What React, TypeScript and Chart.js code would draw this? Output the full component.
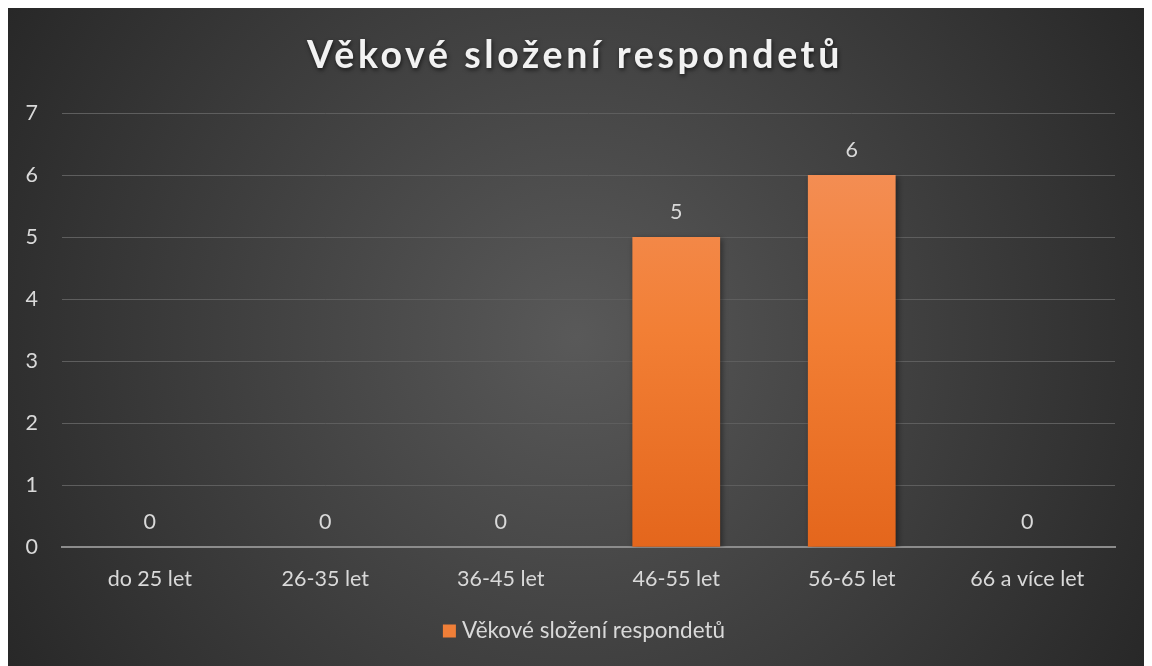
import React, { useEffect, useRef } from "react";
import { Chart, registerables } from "chart.js";

Chart.register(...registerables);

const TITLE = "Věkové složení respondetů";
const SERIES_NAME = "Věkové složení respondetů";
const CATEGORIES = ["do 25 let", "26-35 let", "36-45 let", "46-55 let", "56-65 let", "66 a více let"];
const VALUES = [0, 0, 0, 5, 6, 0];

const FONT = "Lato, 'Open Sans', sans-serif";
const LEGEND_COLOR = "#f07f38";

const bgPlugin = {
  id: "bgPlugin",
  beforeDraw(chart: any) {
    const { ctx, width, height } = chart;
    ctx.save();
    const g = ctx.createRadialGradient(width / 2, height / 2, 0, width / 2, height / 2, Math.max(width, height) * 0.6);
    g.addColorStop(0, "#595959");
    g.addColorStop(1, "#262626");
    ctx.fillStyle = g;
    ctx.fillRect(0, 0, width, height);
    ctx.restore();
  },
};

const titlePlugin = {
  id: "titlePlugin",
  afterDraw(chart: any) {
    const { ctx, width } = chart;
    ctx.save();
    ctx.font = `bold 37.5px ${FONT}`;
    (ctx as any).letterSpacing = "3.6px";
    ctx.textAlign = "center";
    ctx.textBaseline = "middle";
    ctx.shadowColor = "rgba(0,0,0,0.6)";
    ctx.shadowBlur = 4;
    ctx.shadowOffsetX = 1;
    ctx.shadowOffsetY = 2;
    ctx.fillStyle = "#f2f2f2";
    ctx.fillText(TITLE, width / 2 - 1, 48);
    ctx.restore();
  },
};

const legendPlugin = {
  id: "legendPlugin",
  afterDraw(chart: any) {
    const { ctx, width } = chart;
    ctx.save();
    ctx.font = `22.5px ${FONT}`;
    const tw = ctx.measureText(SERIES_NAME).width;
    const box = 13;
    const gap = 6;
    const total = box + gap + tw;
    const x0 = width / 2 + 8 - total / 2;
    const cy = 623;
    ctx.fillStyle = LEGEND_COLOR;
    ctx.fillRect(x0, cy - box / 2, box, box);
    ctx.fillStyle = "#d9d9d9";
    ctx.textBaseline = "middle";
    ctx.textAlign = "left";
    ctx.fillText(SERIES_NAME, x0 + box + gap, cy);
    ctx.restore();
  },
};

const shadowPlugin = {
  id: "shadowPlugin",
  beforeDatasetsDraw(chart: any) {
    const ctx = chart.ctx;
    ctx.save();
    ctx.shadowColor = "rgba(0,0,0,0.45)";
    ctx.shadowBlur = 6;
    ctx.shadowOffsetX = 2;
    ctx.shadowOffsetY = 2;
  },
  afterDatasetsDraw(chart: any) {
    chart.ctx.restore();
  },
};

const labelPlugin = {
  id: "labelPlugin",
  afterDatasetsDraw(chart: any) {
    const ctx = chart.ctx;
    const meta = chart.getDatasetMeta(0);
    ctx.save();
    ctx.font = `21.5px ${FONT}`;
    ctx.fillStyle = "#d9d9d9";
    ctx.textAlign = "center";
    ctx.textBaseline = "middle";
    meta.data.forEach((bar: any, i: number) => {
      ctx.fillText(String(VALUES[i]), bar.x, bar.y - 25);
    });
    ctx.restore();
  },
};

export default function App() {
  const ref = useRef<HTMLCanvasElement>(null);
  useEffect(() => {
    if (!ref.current) return;
    const chart = new Chart(ref.current, {
      type: "bar",
      data: {
        labels: CATEGORIES,
        datasets: [
          {
            label: SERIES_NAME,
            data: VALUES,
            backgroundColor: (c: any) => {
              const area = c.chart.chartArea;
              if (!area) return "#ED7D31";
              const g = c.chart.ctx.createLinearGradient(0, area.top, 0, area.bottom);
              g.addColorStop(0, "#f4935f");
              g.addColorStop(0.5, "#f27f35");
              g.addColorStop(1, "#e4661c");
              return g;
            },
            borderWidth: 0,
            categoryPercentage: 1,
            barPercentage: 0.5,
          },
        ],
      },
      options: {
        responsive: false,
        animation: false,
        layout: { padding: { top: 105, right: 29, left: 0, bottom: 55 } },
        plugins: {
          title: { display: false },
          tooltip: { enabled: false },
          legend: { display: false },
        },
        scales: {
          x: {
            grid: { display: false, drawTicks: false },
            border: { display: true, color: "#8c8c8c", width: 2 },
            ticks: { color: "#d9d9d9", font: { size: 21.5, family: FONT }, padding: 19 },
          },
          y: {
            min: 0,
            max: 7,
            afterFit: (s: any) => {
              s.width = 54;
            },
            ticks: { stepSize: 1, color: "#d9d9d9", font: { size: 21.5, family: FONT }, padding: 24 },
            grid: { color: "#5e5e5e", lineWidth: 1, drawTicks: false },
            border: { display: false },
          },
        },
      },
      plugins: [bgPlugin, shadowPlugin, labelPlugin, titlePlugin, legendPlugin],
    });
    return () => chart.destroy();
  }, []);
  return <canvas ref={ref} width={1136} height={658} style={{ display: "block" }} />;
}
